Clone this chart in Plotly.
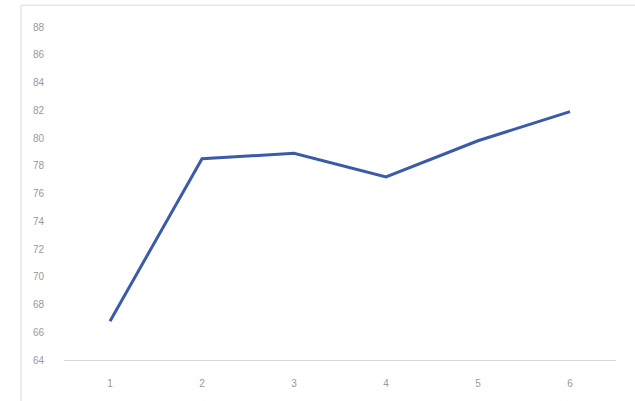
import plotly.graph_objects as go

# Measurement rounds and the score recorded at each
rounds = [1, 2, 3, 4, 5, 6]
scores = [66.8, 78.5, 78.9, 77.2, 79.8, 81.9]
y_ticks = list(range(64, 90, 2))

W, H = 635, 401
L, R, T, B = 64, 19, 27, 38
plot_w = W - L - R
plot_h = H - T - B


def px_to_paper_x(px):
    return (px - L) / plot_w


def px_to_paper_y(py):
    return (T + plot_h - py) / plot_h


fig = go.Figure()
fig.add_trace(go.Scatter(
    x=rounds, y=scores, mode="lines",
    line=dict(color="#3a5ba8", width=3),
    hoverinfo="x+y",
))

# light frame edges around the chart area (top and left; the rest runs off the page)
frame = dict(color="#d9d9d9", width=1)
fig.add_shape(type="line", xref="paper", yref="paper",
              x0=px_to_paper_x(21), x1=px_to_paper_x(W + 40),
              y0=px_to_paper_y(5), y1=px_to_paper_y(5), line=frame, layer="below")
fig.add_shape(type="line", xref="paper", yref="paper",
              x0=px_to_paper_x(21), x1=px_to_paper_x(21),
              y0=px_to_paper_y(5), y1=px_to_paper_y(H + 40), line=frame, layer="below")

fig.update_layout(
    width=W, height=H,
    margin=dict(l=L, r=R, t=T, b=B),
    paper_bgcolor="white", plot_bgcolor="white",
    showlegend=False,
    font=dict(family="Liberation Sans", size=10, color="#999999"),
    xaxis=dict(
        range=[0.5, 6.5], tickvals=rounds, ticktext=[str(r) for r in rounds],
        showgrid=False, zeroline=False,
        showline=True, linecolor="#d9d9d9", linewidth=1,
        ticks="", ticklabelstandoff=14,
    ),
    yaxis=dict(
        range=[64, 88], tickvals=y_ticks, ticktext=[str(v) for v in y_ticks],
        showgrid=False, zeroline=False, showline=False,
        ticks="", ticklabelstandoff=19,
    ),
)

fig.write_html("out.html")
